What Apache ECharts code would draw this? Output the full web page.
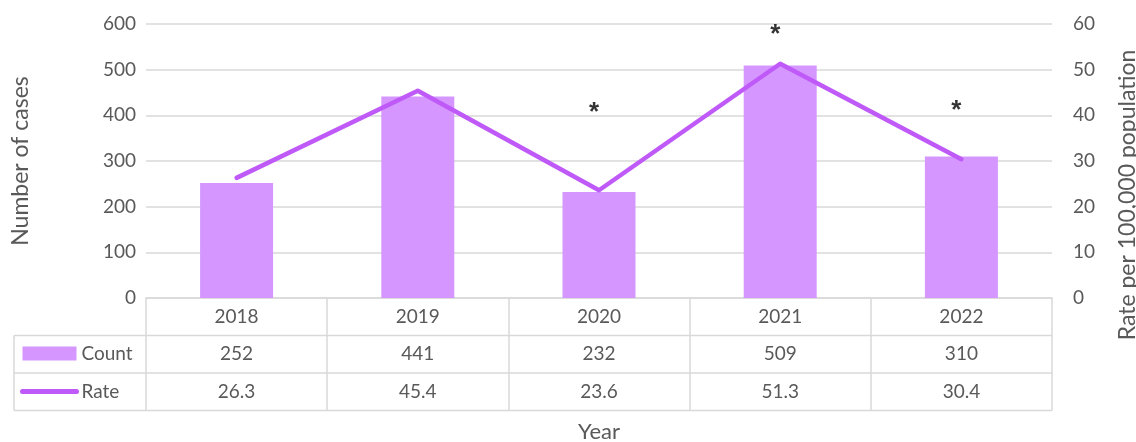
<!DOCTYPE html>
<html>
<head>
<meta charset="utf-8">
<script src="https://cdn.jsdelivr.net/npm/echarts@6/dist/echarts.min.js"></script>
<style>
  html, body { margin: 0; padding: 0; background: #fff; }
  #chart { width: 1136px; height: 442px; }
</style>
</head>
<body>
<div id="chart"></div>
<script>
// data
const years = ['2018', '2019', '2020', '2021', '2022'];
const counts = [252, 441, 232, 509, 310];
const rates = [26.3, 45.4, 23.6, 51.3, 30.4];
// asterisk markers (in case-count units, left axis)
const starY = [null, null, 418, 589, 423];

const barColor = '#D597FF';
const lineColor = '#BF5AF8';
const gridColor = '#D9D9D9';
const textColor = '#595959';
const font = 'Lato, "Open Sans", sans-serif';

// layout of plot + table
const G = { left: 146, right: 1052, top: 24, bottom: 298 };
const rowH = 37.5;
const tableLeft = 14;

const myChart = echarts.init(document.getElementById('chart'));

function hline(y, x1, x2) {
  return {
    type: 'line',
    shape: { x1: x1, y1: y, x2: x2, y2: y },
    style: { stroke: gridColor, lineWidth: 1.5 },
    silent: true
  };
}

const option = {
  animation: false,
  textStyle: { fontFamily: font },
  grid: {
    left: G.left,
    right: 1136 - G.right,
    top: G.top,
    bottom: 442 - G.bottom,
    containLabel: false,
    outerBoundsMode: 'none'
  },
  legend: {
    orient: 'vertical',
    left: 15,
    top: 339,
    itemWidth: 54,
    itemHeight: 14,
    itemGap: 19,
    textStyle: { fontSize: 19, color: textColor, fontFamily: font },
    data: [
      { name: 'Count', icon: 'rect' },
      {
        name: 'Rate',
        itemStyle: { opacity: 0 },
        lineStyle: { width: 5, cap: 'round', color: lineColor }
      }
    ]
  },
  xAxis: {
    type: 'category',
    data: years,
    name: 'Year',
    nameLocation: 'middle',
    nameGap: 123,
    nameTextStyle: { fontSize: 22, color: textColor, fontFamily: font },
    axisLine: { show: true, lineStyle: { color: gridColor, width: 1.5 } },
    axisTick: {
      show: true,
      length: rowH * 3,
      lineStyle: { color: gridColor, width: 1.5 }
    },
    axisLabel: {
      margin: 0,
      interval: 0,
      formatter: function (v, i) {
        return '{a|' + v + '}\n{a|' + counts[i] + '}\n{a|' + rates[i].toFixed(1) + '}';
      },
      rich: {
        a: { fontSize: 19, color: textColor, lineHeight: rowH, fontFamily: font, align: 'center' }
      }
    }
  },
  yAxis: [
    {
      type: 'value',
      min: 0,
      max: 600,
      interval: 100,
      name: 'Number of cases',
      nameLocation: 'middle',
      nameGap: 114,
      nameTextStyle: { fontSize: 23, color: textColor, fontFamily: font },
      axisLine: { show: false },
      axisTick: { show: false },
      axisLabel: { fontSize: 19, color: textColor, margin: 10, fontFamily: font },
      splitLine: { lineStyle: { color: gridColor, width: 1.5 } }
    },
    {
      type: 'value',
      min: 0,
      max: 60,
      interval: 10,
      name: 'Rate per 100,000 population',
      nameLocation: 'middle',
      nameGap: 64,
      nameTextStyle: { fontSize: 23, color: textColor, fontFamily: font, padding: [0, 68, 0, 0] },
      axisLine: { show: false },
      axisTick: { show: false },
      axisLabel: { fontSize: 19, color: textColor, margin: 21, fontFamily: font },
      splitLine: { show: false }
    }
  ],
  series: [
    {
      name: 'Count',
      type: 'bar',
      data: counts,
      barWidth: 73,
      itemStyle: { color: barColor }
    },
    {
      name: 'Rate',
      type: 'line',
      yAxisIndex: 1,
      data: rates,
      symbol: 'none',
      lineStyle: { color: lineColor, width: 4.5, cap: 'round', join: 'round' },
      itemStyle: { color: lineColor },
      z: 3
    },
    {
      name: 'sig',
      type: 'scatter',
      data: starY,
      symbolSize: 0,
      silent: true,
      label: {
        show: true,
        position: 'inside',
        formatter: '*',
        fontSize: 26,
        fontWeight: 'bold',
        color: '#000',
        fontFamily: 'Arial, sans-serif',
        offset: [-5, 6]
      }
    }
  ],
  graphic: [
    hline(G.bottom + rowH, tableLeft, G.right),
    hline(G.bottom + rowH * 2, tableLeft, G.right),
    hline(G.bottom + rowH * 3, tableLeft, G.right),
    {
      type: 'line',
      shape: { x1: tableLeft, y1: G.bottom + rowH, x2: tableLeft, y2: G.bottom + rowH * 3 },
      style: { stroke: gridColor, lineWidth: 1.5 },
      silent: true
    }
  ]
};

myChart.setOption(option);
</script>
</body>
</html>
